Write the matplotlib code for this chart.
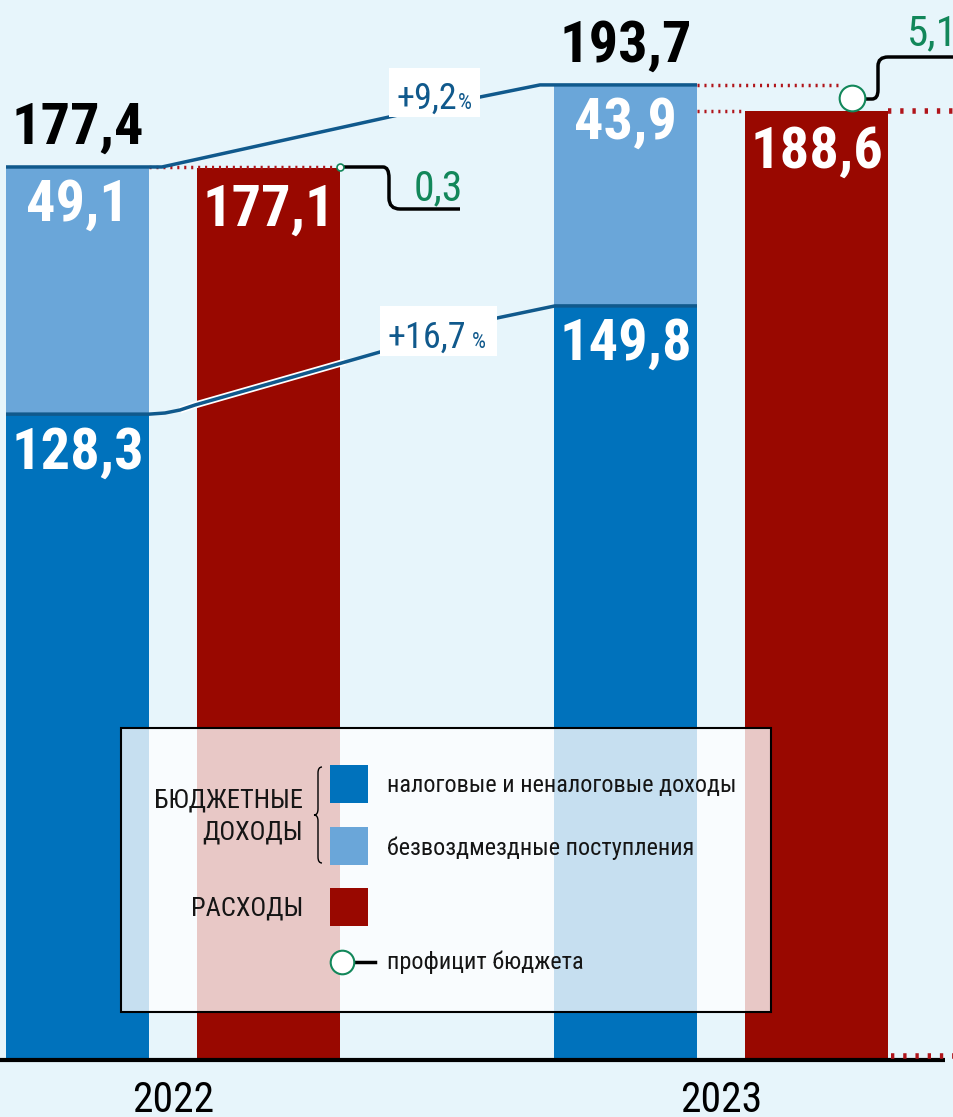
import matplotlib.pyplot as plt
from matplotlib import font_manager as fm
from matplotlib.path import Path
from matplotlib.patches import PathPatch, Rectangle
from matplotlib.transforms import Affine2D, blended_transform_factory

# данные, млрд руб.
years = ['2022', '2023']
tax_income = [128.3, 149.8]   # налоговые и неналоговые доходы
grants = [49.1, 43.9]         # безвоздмездные поступления
expenses = [177.1, 188.6]     # расходы
growth_total = '+9,2'
growth_tax = '+16,7'

C_TAX = '#0072bc'
C_GRANT = '#6aa6d9'
C_EXP = '#990800'
C_GREEN = '#12875a'
C_LINE = '#10598c'
C_DOT = '#b0141a'


def fmt(v):
    return f'{v:.1f}'.replace('.', ',')


total = [round(a + b, 1) for a, b in zip(tax_income, grants)]
surplus = [round(t - e, 1) for t, e in zip(total, expenses)]

# узкий шрифт, если есть
have = {f.name for f in fm.fontManager.ttflist}
cands = ['Roboto Condensed', 'Fira Sans Extra Condensed', 'PT Sans Narrow',
         'Liberation Sans Narrow', 'DejaVu Sans']
font = next(c for c in cands if c in have)
plt.rcParams['font.family'] = [font, 'DejaVu Sans']

fig = plt.figure(figsize=(9.54, 11.17), dpi=100)
fig.patch.set_facecolor('#e7f5fb')
ax = fig.add_axes([0, 0, 1, 1])
ax.set_facecolor('none')
S = 5.034  # px per unit
ax.set_xlim(0, 954)
ax.set_ylim(-57 / S, 1060 / S)
ax.axis('off')

# pixel coords from top-left
pix = Affine2D().scale(1 / 954, -1 / 1117).translate(0, 1) + fig.transFigure
xpix = blended_transform_factory(ax.transData, pix)


def Y(py):
    return (1060 - py) / S


W = 143
centers = [173 + 548 * i for i in range(len(years))]
x_inc = [c - 95.5 for c in centers]
x_exp = [c + 95.5 for c in centers]

ax.bar(x_inc, tax_income, W, color=C_TAX, zorder=2)
ax.bar(x_inc, grants, W, bottom=tax_income, color=C_GRANT, zorder=2)
ax.bar(x_exp, expenses, W, color=C_EXP, zorder=2)

big = dict(fontsize=42, fontweight='bold', ha='center', textcoords='offset points')
for i in range(len(years)):
    ax.annotate(fmt(tax_income[i]), (x_inc[i], tax_income[i]), xytext=(0, -8),
                va='top', color='white', zorder=5, **big)
    ax.annotate(fmt(grants[i]), (x_inc[i], total[i]), xytext=(0, -8),
                va='top', color='white', zorder=5, **big)
    ax.annotate(fmt(expenses[i]), (x_exp[i], expenses[i]), xytext=(0, -10),
                va='top', color='white', zorder=5, **big)
    ax.annotate(fmt(total[i]), (x_inc[i], total[i]), xytext=(0, 8),
                va='bottom', color='black', zorder=5, **big)
    ax.text(centers[i], 1112, years[i], transform=xpix, fontsize=30,
            ha='center', va='baseline', color='black')

# baseline
ax.plot([0, 945], [0, 0], color='black', lw=3, zorder=3, solid_capstyle='butt')
ax.plot([891, 954], [Y(1056), Y(1056)], color=C_DOT, lw=4,
        linestyle=(0, (0.6, 1.6)), zorder=3)

# growth lines
l0, r1 = x_inc[0] - W / 2, x_inc[1] + W / 2
ax.plot([l0, 162, 389, 480, 540, r1],
        [total[0], total[0], Y(117), Y(97), total[1], total[1]],
        color=C_LINE, lw=2.5, zorder=4, solid_capstyle='butt')
ax.plot([l0, x_inc[0] + W / 2, 165, 180, 195, 380, 497, 555, r1],
        [tax_income[0], tax_income[0], Y(413), Y(410), Y(405), Y(352), Y(318),
         tax_income[1], tax_income[1]],
        color=C_LINE, lw=2.5, zorder=4, solid_capstyle='butt')
ax.plot([180, 195, 345], [Y(410), Y(405), Y(362)], color='white', lw=5,
        zorder=3.9, solid_capstyle='butt')

for (bx, by, bw, bh, txt, tx, px_) in [(389, 68, 91, 49, growth_total, 397, 458),
                                        (380, 306, 117, 50, growth_tax, 388, 472)]:
    ax.add_patch(Rectangle((bx, by), bw, bh, transform=pix, facecolor='white',
                           edgecolor='none', zorder=5))
    ax.text(tx, by + bh - 8, txt, transform=pix, fontsize=26, color=C_LINE,
            ha='left', va='baseline', zorder=6)
    ax.text(px_, by + bh - 8, '%', transform=pix, fontsize=16, color=C_LINE,
            ha='left', va='baseline', zorder=6)

# surplus 2022
dots = dict(colors=C_DOT, linestyles=(0, (0.6, 1.4)), lw=2.5, zorder=3)
ax.hlines(total[0], x_inc[0] + W / 2, x_exp[0] + W / 2, **dots)
ax.plot([x_exp[0] + W / 2], [total[0]], 'o', ms=5, mfc='white', mec=C_GREEN,
        mew=1.2, zorder=6)
lead1 = Path([(343, 167), (383, 167), (389, 167), (389, 178), (389, 198),
              (389, 209), (400, 209), (460, 209)],
             [Path.MOVETO, Path.LINETO, Path.CURVE3, Path.CURVE3, Path.LINETO,
              Path.CURVE3, Path.CURVE3, Path.LINETO])
ax.add_patch(PathPatch(lead1, transform=pix, fill=False, lw=2.5, edgecolor='black', zorder=5))
ax.text(414, 200, fmt(surplus[0]), transform=pix, fontsize=30, color=C_GREEN,
        ha='left', va='baseline', zorder=6)

# surplus 2023
ax.hlines(total[1], x_inc[1] + W / 2, 840, **dots)
ax.hlines(expenses[1], x_inc[1] + W / 2, x_exp[1] - W / 2, **dots)
ax.hlines(expenses[1], x_exp[1] + W / 2, 954, colors=C_DOT,
          linestyles=(0, (0.6, 1.6)), lw=4, zorder=3)
lead2 = Path([(862, 99), (872, 99), (878, 99), (878, 90), (878, 66),
              (878, 57), (888, 57), (954, 57)],
             [Path.MOVETO, Path.LINETO, Path.CURVE3, Path.CURVE3, Path.LINETO,
              Path.CURVE3, Path.CURVE3, Path.LINETO])
ax.add_patch(PathPatch(lead2, transform=pix, fill=False, lw=2.5, edgecolor='black', zorder=5))
ax.plot([852], [(total[1] + expenses[1]) / 2], 'o', ms=18.5, mfc='white',
        mec=C_GREEN, mew=1.5, zorder=6)
ax.text(907, 45, fmt(surplus[1]), transform=pix, fontsize=31, color=C_GREEN,
        ha='left', va='baseline', zorder=6)

# legend
ax.add_patch(Rectangle((121, 728), 650, 284, transform=pix, facecolor='white',
                       alpha=0.78, edgecolor='none', zorder=6))
ax.add_patch(Rectangle((121, 728), 650, 284, transform=pix, facecolor='none',
                       edgecolor='black', lw=1.5, zorder=7))
for y0, col in [(765, C_TAX), (827, C_GRANT), (888, C_EXP)]:
    ax.add_patch(Rectangle((330, y0), 38, 38, transform=pix, facecolor=col,
                           edgecolor='none', zorder=8))
ax.plot([354, 375], [962, 962], color='black', lw=2.5, transform=pix, zorder=8)
ax.plot([342], [962], 'o', ms=17, mfc='white', mec=C_GREEN, mew=1.5,
        transform=pix, zorder=9)
leg = dict(transform=pix, color='#151515', va='center', zorder=8)
ax.text(387, 785, 'налоговые и неналоговые доходы', ha='left', fontsize=17.5, **leg)
ax.text(387, 848, 'безвоздмездные поступления', ha='left', fontsize=17.5, **leg)
ax.text(387, 962, 'профицит бюджета', ha='left', fontsize=17.5, **leg)
ax.text(303, 801, 'БЮДЖЕТНЫЕ', ha='right', fontsize=19, **leg)
ax.text(303, 833, 'ДОХОДЫ', ha='right', fontsize=19, **leg)
ax.text(303, 909, 'РАСХОДЫ', ha='right', fontsize=19, **leg)
brace = Path([(322, 767), (318, 767), (318, 773), (318, 809), (318, 815),
              (314, 815), (318, 815), (318, 821), (318, 857), (318, 863),
              (322, 863)],
             [Path.MOVETO, Path.CURVE3, Path.CURVE3, Path.LINETO, Path.CURVE3,
              Path.CURVE3, Path.CURVE3, Path.CURVE3, Path.LINETO, Path.CURVE3,
              Path.CURVE3])
ax.add_patch(PathPatch(brace, transform=pix, fill=False, lw=1, edgecolor='black', zorder=8))

fig.savefig('out.png', dpi=100, facecolor=fig.get_facecolor())
